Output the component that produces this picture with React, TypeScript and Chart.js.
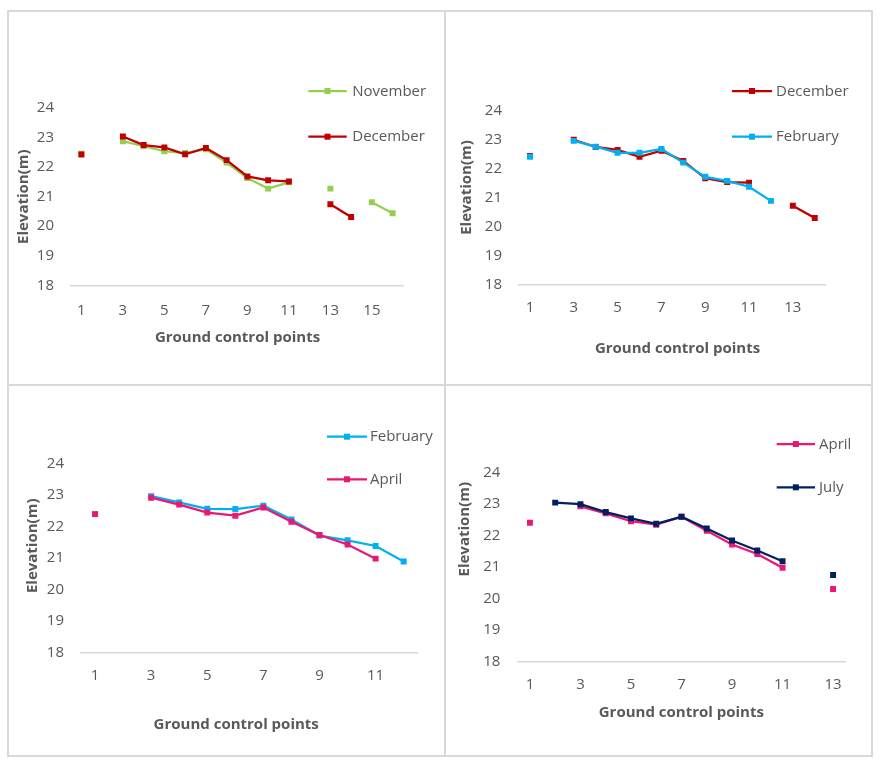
import React, { useEffect, useRef } from "react";
import { Chart, registerables } from "chart.js";

Chart.register(...registerables);

// ---------- data ----------
const labels1 = ["1", "2", "3", "4", "5", "6", "7", "8", "9", "10", "11", "12", "13", "14", "15", "16"];
const november1 = [22.45, null, 22.87, 22.7, 22.53, 22.47, 22.6, 22.15, 21.63, 21.27, 21.48, null, 21.27, null, 20.81, 20.44];
const december1 = [22.42, null, 23.03, 22.74, 22.66, 22.43, 22.64, 22.23, 21.68, 21.55, 21.51, null, 20.74, 20.31, null, null];

const labels2 = ["1", "2", "3", "4", "5", "6", "7", "8", "9", "10", "11", "12", "13", "14"];
const december2 = [22.45, null, 23.01, 22.76, 22.66, 22.42, 22.63, 22.28, 21.68, 21.55, 21.53, null, 20.73, 20.31];
const february2 = [22.42, null, 22.97, 22.77, 22.56, 22.56, 22.69, 22.22, 21.73, 21.59, 21.39, 20.9, null, null];

const labels3 = ["1", "2", "3", "4", "5", "6", "7", "8", "9", "10", "11", "12"];
const february3 = [22.39, null, 22.96, 22.76, 22.56, 22.55, 22.66, 22.22, 21.71, 21.56, 21.38, 20.89];
const april3 = [22.39, null, 22.91, 22.69, 22.44, 22.34, 22.6, 22.15, 21.73, 21.43, 20.98, null];

const labels4 = ["1", "2", "3", "4", "5", "6", "7", "8", "9", "10", "11", "12", "13"];
const april4 = [22.41, null, 22.93, 22.71, 22.46, 22.35, 22.6, 22.16, 21.72, 21.42, 20.98, null, 20.31];
const july4 = [null, 23.05, 23.0, 22.75, 22.55, 22.38, 22.6, 22.23, 21.85, 21.53, 21.19, null, 20.75];

const yMin = 18;
const yMax = 24;
const xTitle = "Ground control points";
const yTitle = "Elevation(m)";

// ---------- styles ----------
const FONT = '"Open Sans", "Noto Sans", sans-serif';
const TEXT = "#595959";
const BORDER = "#D9D9D9";
const COLORS: Record<string, string> = {
  November: "#92D050",
  December: "#C00000",
  February: "#00B0F0",
  April: "#EA1773",
  July: "#002060",
};

type PanelSpec = {
  left: number; top: number; width: number; height: number;
  plot: { l: number; r: number; t: number; b: number };
  labels: string[];
  series: { name: string; data: (number | null)[] }[];
  tickPad: number;
  xTitlePos: [number, number];
  yTitlePos: [number, number];
  legend: { x0: number; x1: number; tx: number; ys: number[] };
};

const panels: PanelSpec[] = [
  {
    left: 9, top: 12, width: 435, height: 372,
    plot: { l: 62, r: 394, t: 95.7, b: 273.5 },
    labels: labels1,
    series: [{ name: "November", data: november1 }, { name: "December", data: december1 }],
    tickPad: 16,
    xTitlePos: [228.5, 325.7],
    yTitlePos: [14.3, 184.7],
    legend: { x0: 299.3, x1: 337.7, tx: 343.3, ys: [79, 124.7] },
  },
  {
    left: 446, top: 12, width: 425, height: 372,
    plot: { l: 73, r: 379.7, t: 99, b: 273 },
    labels: labels2,
    series: [{ name: "December", data: december2 }, { name: "February", data: february2 }],
    tickPad: 14,
    xTitlePos: [231.5, 336.3],
    yTitlePos: [20.7, 175.5],
    legend: { x0: 286, x1: 326, tx: 330, ys: [79, 124.7] },
  },
  {
    left: 9, top: 386, width: 435, height: 369,
    plot: { l: 72, r: 408.7, t: 77.3, b: 266.7 },
    labels: labels3,
    series: [{ name: "February", data: february3 }, { name: "April", data: april3 }],
    tickPad: 14.5,
    xTitlePos: [227.2, 338.3],
    yTitlePos: [23.3, 159.8],
    legend: { x0: 318, x1: 358, tx: 361, ys: [50.7, 93.3] },
  },
  {
    left: 446, top: 386, width: 425, height: 369,
    plot: { l: 71.3, r: 399.7, t: 86.7, b: 275.7 },
    labels: labels4,
    series: [{ name: "April", data: april4 }, { name: "July", data: july4 }],
    tickPad: 14,
    xTitlePos: [235.3, 326.3],
    yTitlePos: [19, 143.2],
    legend: { x0: 330.7, x1: 369, tx: 373, ys: [58, 101.3] },
  },
];

const decoPlugin = {
  id: "deco",
  afterDraw(chart: any, _args: any, opts: any) {
    const ctx = chart.ctx as CanvasRenderingContext2D;
    ctx.save();
    ctx.fillStyle = TEXT;
    ctx.textBaseline = "middle";
    ctx.textAlign = "center";
    ctx.font = `bold 15px ${FONT}`;
    ctx.fillText(opts.xTitle, opts.xTitlePos[0], opts.xTitlePos[1]);
    ctx.save();
    ctx.translate(opts.yTitlePos[0], opts.yTitlePos[1]);
    ctx.rotate(-Math.PI / 2);
    ctx.fillText(opts.yTitle, 0, 0);
    ctx.restore();
    // legend
    const lg = opts.legend;
    ctx.font = `15px ${FONT}`;
    ctx.textAlign = "left";
    opts.items.forEach((it: { name: string; color: string }, i: number) => {
      const y = lg.ys[i];
      ctx.strokeStyle = it.color;
      ctx.lineWidth = 2.25;
      ctx.beginPath();
      ctx.moveTo(lg.x0, y);
      ctx.lineTo(lg.x1, y);
      ctx.stroke();
      ctx.fillStyle = it.color;
      const mx = (lg.x0 + lg.x1) / 2;
      ctx.fillRect(mx - 3, y - 3, 6, 6);
      ctx.fillStyle = TEXT;
      ctx.fillText(it.name, lg.tx, y + 0.5);
    });
    ctx.restore();
  },
};

function Panel({ spec }: { spec: PanelSpec }) {
  const ref = useRef<HTMLCanvasElement | null>(null);
  useEffect(() => {
    if (!ref.current) return;
    const p = spec.plot;
    const n = spec.series.length;
    const chart = new Chart(ref.current, {
      type: "line",
      data: {
        labels: spec.labels,
        datasets: spec.series.map((s, i) => ({
          label: s.name,
          data: s.data,
          borderColor: COLORS[s.name],
          backgroundColor: COLORS[s.name],
          borderWidth: 2.25,
          pointStyle: "rect",
          pointRadius: 4.2,
          pointBorderWidth: 0,
          pointBackgroundColor: COLORS[s.name],
          spanGaps: false,
          tension: 0,
          order: n - i,
        })),
      },
      options: {
        responsive: false,
        animation: false,
        devicePixelRatio: 1,
        layout: {
          padding: { left: 0, top: p.t, right: spec.width - p.r, bottom: 0 },
        },
        plugins: {
          legend: { display: false },
          tooltip: { enabled: false },
          deco: {
            xTitle,
            yTitle,
            xTitlePos: spec.xTitlePos,
            yTitlePos: spec.yTitlePos,
            legend: spec.legend,
            items: spec.series.map((s) => ({ name: s.name, color: COLORS[s.name] })),
          },
        } as any,
        scales: {
          x: {
            type: "category",
            offset: true,
            grid: { display: false, drawTicks: false },
            border: { display: true, color: BORDER, width: 1.5 },
            ticks: {
              autoSkip: false,
              maxRotation: 0,
              padding: spec.tickPad,
              color: TEXT,
              font: { family: FONT, size: 15 },
              callback: (_v: any, idx: number) => (idx % 2 === 0 ? spec.labels[idx] : ""),
            },
            afterFit: (s: any) => {
              s.height = spec.height - p.b;
            },
          },
          y: {
            min: yMin,
            max: yMax,
            grid: { display: false, drawTicks: false },
            border: { display: false },
            ticks: {
              stepSize: 1,
              padding: 17,
              color: TEXT,
              font: { family: FONT, size: 15 },
            },
            afterFit: (s: any) => {
              s.width = p.l;
            },
          },
        },
      },
      plugins: [decoPlugin as any],
    });
    return () => chart.destroy();
  }, [spec]);
  return (
    <canvas
      ref={ref}
      width={spec.width}
      height={spec.height}
      style={{ position: "absolute", left: spec.left, top: spec.top, width: spec.width, height: spec.height }}
    />
  );
}

const frames = [
  { left: 7, top: 10, width: 439, height: 376 },
  { left: 444, top: 10, width: 429, height: 376 },
  { left: 7, top: 384, width: 439, height: 373 },
  { left: 444, top: 384, width: 429, height: 373 },
];

export default function App() {
  return (
    <div style={{ position: "absolute", left: 0, top: 0, width: 884, height: 765, background: "#fff" }}>
      {frames.map((f, i) => (
        <div
          key={"f" + i}
          style={{
            position: "absolute",
            left: f.left,
            top: f.top,
            width: f.width,
            height: f.height,
            border: `2px solid ${BORDER}`,
            boxSizing: "border-box",
          }}
        />
      ))}
      {panels.map((s, i) => (
        <Panel key={i} spec={s} />
      ))}
    </div>
  );
}
